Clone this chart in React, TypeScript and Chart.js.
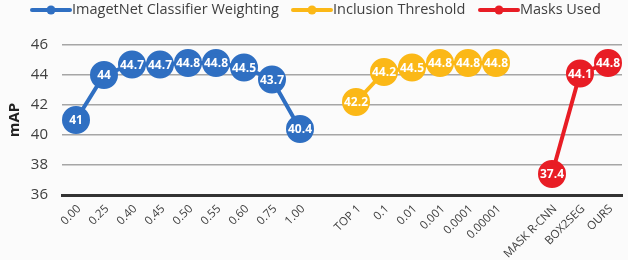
import { useEffect, useRef } from 'react';
import { Chart, registerables } from 'chart.js';
Chart.register(...registerables);

const categories = ['0.00', '0.25', '0.40', '0.45', '0.50', '0.55', '0.60', '0.75', '1.00', '', 'TOP 1', '0.1', '0.01', '0.001', '0.0001', '0.00001', '', 'MASK R-CNN', 'BOX2SEG', 'OURS'];
const imagenetValues = [41, 44, 44.7, 44.7, 44.8, 44.8, 44.5, 43.7, 40.4];
const inclusionValues = [42.2, 44.2, 44.5, 44.8, 44.8, 44.8];
const masksValues = [37.4, 44.1, 44.8];
const seriesNames = ['ImagetNet Classifier Weighting', 'Inclusion Threshold', 'Masks Used'];
const seriesStart = [0, 10, 17];
const colors = ['#2f6fc2', '#fbb817', '#e81d25'];
const yMin = 36;
const yMax = 46;
const yStep = 2;

function pad(values: number[], start: number): (number | null)[] {
  const arr: (number | null)[] = categories.map(() => null);
  values.forEach((v, i) => { arr[start + i] = v; });
  return arr;
}

const FONT = '"Open Sans", "Noto Sans", sans-serif';

const labelPlugin = {
  id: 'pointLabels',
  afterDatasetsDraw(chart: any) {
    const ctx = chart.ctx;
    ctx.save();
    ctx.font = `bold 12px ${FONT}`;
    ctx.fillStyle = '#ffffff';
    ctx.textAlign = 'center';
    ctx.textBaseline = 'middle';
    chart.data.datasets.forEach((ds: any, di: number) => {
      const meta = chart.getDatasetMeta(di);
      meta.data.forEach((pt: any, i: number) => {
        const v = ds.data[i];
        if (v === null || v === undefined) return;
        ctx.fillText(String(v), pt.x, pt.y + 1);
      });
    });
    ctx.restore();
  },
};

// Rotated category labels drawn at the x scale's own tick positions
const xLabelPlugin = {
  id: 'xLabels',
  afterDraw(chart: any) {
    const ctx = chart.ctx;
    const scale = chart.scales.x;
    ctx.save();
    ctx.font = `11.5px ${FONT}`;
    ctx.fillStyle = '#404040';
    ctx.textAlign = 'right';
    ctx.textBaseline = 'middle';
    categories.forEach((label, i) => {
      if (!label) return;
      const x = scale.getPixelForTick(i);
      const y = chart.chartArea.bottom + 12;
      ctx.save();
      ctx.translate(x + 3, y);
      ctx.rotate(-Math.PI / 4);
      ctx.fillText(label, 0, 0);
      ctx.restore();
    });
    ctx.restore();
  },
};

const legendPlugin = {
  id: 'customLegend',
  afterDraw(chart: any) {
    const ctx = chart.ctx;
    ctx.save();
    ctx.font = `14.5px ${FONT}`;
    ctx.textBaseline = 'middle';
    const y = 10;
    const starts = [32, 293, 480];
    seriesNames.forEach((name, i) => {
      const x0 = starts[i];
      ctx.strokeStyle = colors[i];
      ctx.lineWidth = 4;
      ctx.lineCap = 'round';
      ctx.beginPath();
      ctx.moveTo(x0, y);
      ctx.lineTo(x0 + 38, y);
      ctx.stroke();
      ctx.fillStyle = colors[i];
      ctx.beginPath();
      ctx.arc(x0 + 19, y, 4.5, 0, Math.PI * 2);
      ctx.fill();
      ctx.fillStyle = '#404040';
      ctx.textAlign = 'left';
      ctx.fillText(name, x0 + 40, y);
    });
    ctx.restore();
  },
};

const bgPlugin = {
  id: 'bg',
  beforeDraw(chart: any) {
    const ctx = chart.ctx;
    ctx.save();
    ctx.fillStyle = '#fbfbfb';
    ctx.fillRect(0, 0, chart.width, chart.height);
    ctx.restore();
  },
};

export default function App() {
  const ref = useRef<HTMLCanvasElement>(null);
  useEffect(() => {
    document.body.style.margin = '0';
    const series = [imagenetValues, inclusionValues, masksValues];
    const chart = new Chart(ref.current!, {
      type: 'line',
      data: {
        labels: categories,
        datasets: series.map((vals, i) => ({
          label: seriesNames[i],
          data: pad(vals, seriesStart[i]),
          borderColor: colors[i],
          backgroundColor: colors[i],
          pointBackgroundColor: colors[i],
          pointBorderColor: colors[i],
          borderWidth: 4,
          pointRadius: 12,
          pointHoverRadius: 12,
          spanGaps: false,
          tension: 0,
        })),
      },
      options: {
        responsive: false,
        animation: false,
        layout: { autoPadding: false, padding: { top: 45, right: 6, left: 0, bottom: 57 } },
        plugins: { legend: { display: false }, tooltip: { enabled: false } },
        scales: {
          x: {
            offset: true,
            grid: { display: false },
            border: { display: true, color: '#333333', width: 3 },
            ticks: { display: false, autoSkip: false },
          },
          y: {
            min: yMin,
            max: yMax,
            afterFit: (scale: any) => { scale.width = 62; },
            ticks: { stepSize: yStep, color: '#404040', font: { size: 15, family: FONT }, padding: 14 },
            grid: { color: '#a6a6a6', lineWidth: 1.6, drawTicks: false },
            border: { display: false },
            title: { display: true, text: 'mAP', color: '#222222', font: { size: 15, weight: 'bold', family: FONT }, padding: { top: 6, bottom: 0 } },
          },
        },
      },
      plugins: [bgPlugin, labelPlugin, xLabelPlugin, legendPlugin],
    });
    return () => chart.destroy();
  }, []);
  return <canvas ref={ref} width={628} height={260} style={{ display: 'block' }} />;
}
